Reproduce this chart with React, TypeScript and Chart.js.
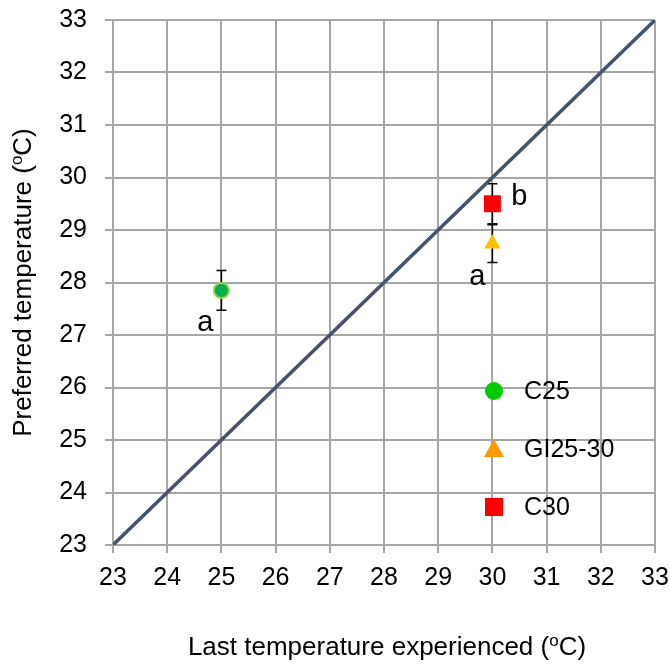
import React, { useEffect, useRef } from 'react';
import { Chart, registerables } from 'chart.js';

Chart.register(...registerables);

// ---- data ----
const groups = ['C25', 'GI25-30', 'C30'];
const lastTemp = [25, 30, 30];
const prefTemp = [27.85, 28.74, 29.5];
const prefErr = [0.38, 0.36, 0.38];
const groupLetters = ['a', 'a', 'b'];
const refLineX = [23, 33];
const refLineY = [23, 33];
const axisTicks = [23, 24, 25, 26, 27, 28, 29, 30, 31, 32, 33];

// ---- styles ----
const FONT = "'Liberation Sans', Arial, sans-serif";
const GRID = '#A6A6A6';
const markerFill = ['#00B050', '#FFC000', '#FF0000'];
const markerBorder = ['#92D050', '#FFC000', '#FF0000'];
const markerStyle = ['circle', 'triangle', 'rect'];
const markerRadius = [7.5, 9.5, 12];
const markerBorderW = [2, 0, 0];
const legendFill = ['#00CC00', '#FF9900', '#FF0000'];
const letterOffset = [
  [-16, 33],
  [-15, 33],
  [27, -7],
];

function drawSupTitle(
  ctx: CanvasRenderingContext2D,
  before: string,
  sup: string,
  after: string,
  size: number
) {
  const main = `${size}px ${FONT}`;
  const supF = `${Math.round(size * 0.65)}px ${FONT}`;
  ctx.font = main;
  const w1 = ctx.measureText(before).width;
  const w3 = ctx.measureText(after).width;
  ctx.font = supF;
  const w2 = ctx.measureText(sup).width;
  const total = w1 + w2 + w3;
  let x = -total / 2;
  ctx.textAlign = 'left';
  ctx.textBaseline = 'alphabetic';
  ctx.fillStyle = '#000';
  ctx.font = main;
  ctx.fillText(before, x, 0);
  x += w1;
  ctx.font = supF;
  ctx.fillText(sup, x, -size * 0.36);
  x += w2;
  ctx.font = main;
  ctx.fillText(after, x, 0);
}

const extrasPlugin = {
  id: 'extras',
  beforeDatasetsDraw(chart: any) {
    const { ctx, scales } = chart;
    const xs = scales.x;
    const ys = scales.y;
    ctx.save();
    ctx.strokeStyle = '#000';
    ctx.lineWidth = 1.5;
    for (let i = 0; i < groups.length; i++) {
      const px = xs.getPixelForValue(lastTemp[i]);
      const top = ys.getPixelForValue(prefTemp[i] + prefErr[i]);
      const bot = ys.getPixelForValue(prefTemp[i] - prefErr[i]);
      ctx.beginPath();
      ctx.moveTo(px, top);
      ctx.lineTo(px, bot);
      ctx.moveTo(px - 5, top);
      ctx.lineTo(px + 5, top);
      ctx.moveTo(px - 5, bot);
      ctx.lineTo(px + 5, bot);
      ctx.stroke();
    }
    ctx.restore();
  },
  afterDraw(chart: any) {
    const { ctx, scales, chartArea } = chart;
    const xs = scales.x;
    const ys = scales.y;
    ctx.save();
    // significance letters
    ctx.fillStyle = '#000';
    ctx.font = `29px ${FONT}`;
    ctx.textAlign = 'center';
    ctx.textBaseline = 'middle';
    for (let i = 0; i < groups.length; i++) {
      const px = xs.getPixelForValue(lastTemp[i]);
      const py = ys.getPixelForValue(prefTemp[i]);
      ctx.fillText(groupLetters[i], px + letterOffset[i][0], py + letterOffset[i][1]);
    }
    // legend
    const lx = chartArea.left + 381;
    const ly0 = chartArea.top + 371;
    const dy = 58;
    for (let i = 0; i < groups.length; i++) {
      const cy = ly0 + i * dy;
      ctx.fillStyle = legendFill[i];
      ctx.beginPath();
      if (markerStyle[i] === 'circle') {
        ctx.arc(lx, cy, 9, 0, Math.PI * 2);
      } else if (markerStyle[i] === 'triangle') {
        ctx.moveTo(lx, cy - 10);
        ctx.lineTo(lx + 10, cy + 8);
        ctx.lineTo(lx - 10, cy + 8);
        ctx.closePath();
      } else {
        ctx.rect(lx - 9, cy - 9, 18, 18);
      }
      ctx.fill();
      ctx.fillStyle = '#000';
      ctx.font = `25px ${FONT}`;
      ctx.textAlign = 'left';
      ctx.textBaseline = 'middle';
      ctx.fillText(groups[i], lx + 30, cy + 1);
    }
    // axis titles
    const cx = (chartArea.left + chartArea.right) / 2;
    const cyMid = (chartArea.top + chartArea.bottom) / 2;
    ctx.save();
    ctx.translate(cx + 3, chartArea.bottom + 110);
    drawSupTitle(ctx, 'Last temperature experienced (', 'o', 'C)', 26);
    ctx.restore();
    ctx.save();
    ctx.translate(31, cyMid);
    ctx.rotate(-Math.PI / 2);
    drawSupTitle(ctx, 'Preferred temperature (', 'o', 'C)', 26);
    ctx.restore();
    ctx.restore();
  },
};

export default function App() {
  const ref = useRef<HTMLCanvasElement | null>(null);
  useEffect(() => {
    if (!ref.current) return;
    const axisCommon = (fit: (s: any) => void, pad: number) => ({
      type: 'linear' as const,
      min: 23,
      max: 33,
      afterFit: (s: any) => {
        fit(s);
        s.paddingTop = 0;
        s.paddingBottom = 0;
        s.paddingLeft = 0;
        s.paddingRight = 0;
      },
      afterBuildTicks: (s: any) => {
        s.ticks = axisTicks.map((v) => ({ value: v }));
      },
      grid: { color: GRID, lineWidth: 2, tickLength: 8, drawTicks: true },
      border: { color: GRID, width: 2 },
      ticks: {
        font: { family: FONT, size: 25 },
        color: '#000',
        padding: pad,
        maxRotation: 0,
        autoSkip: false,
      },
    });
    const chart = new Chart(ref.current, {
      type: 'scatter',
      data: {
        datasets: [
          {
            label: 'line',
            data: refLineX.map((x, i) => ({ x, y: refLineY[i] })),
            showLine: true,
            borderColor: '#44546A',
            borderWidth: 3.5,
            pointRadius: 0,
            order: 5,
          },
          ...groups.map((g, i) => ({
            label: g,
            data: [{ x: lastTemp[i], y: prefTemp[i] }],
            pointStyle: markerStyle[i] as any,
            pointRadius: markerRadius[i],
            backgroundColor: markerFill[i],
            borderColor: markerBorder[i],
            borderWidth: markerBorderW[i],
            order: 1,
          })),
        ],
      },
      options: {
        animation: false,
        responsive: false,
        maintainAspectRatio: false,
        layout: { padding: { top: 20, right: 15, left: 0, bottom: 0 } },
        plugins: { legend: { display: false }, tooltip: { enabled: false } },
        scales: {
          x: axisCommon((s: any) => {
            s.height = 120;
          }, 10) as any,
          y: axisCommon((s: any) => {
            s.width = 113;
          }, 18) as any,
        },
      },
      plugins: [extrasPlugin],
    });
    return () => chart.destroy();
  }, []);
  return (
    <div style={{ position: 'absolute', left: 0, top: 0, width: 670, height: 665, background: '#fff' }}>
      <canvas ref={ref} width={670} height={665} style={{ width: 670, height: 665 }} />
    </div>
  );
}
